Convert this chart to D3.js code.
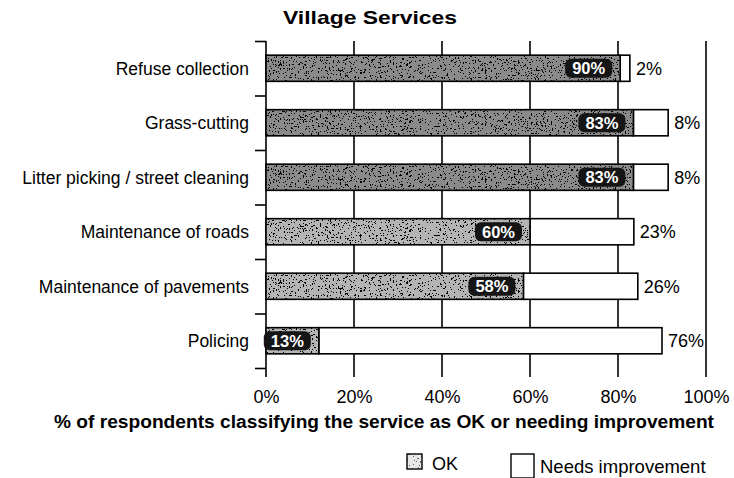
<!DOCTYPE html>
<html>
<head>
<meta charset="utf-8">
<script src="https://cdn.jsdelivr.net/npm/d3@7"></script>
<style>
  body { margin: 0; background: #fff; }
  svg { display: block; font-family: "Liberation Sans", Arial, Helvetica, sans-serif; }
</style>
</head>
<body>
<div id="root"></div>
<script>
// categories, top to bottom
let categories = ["Refuse collection", "Grass-cutting", "Litter picking / street cleaning",
    "Maintenance of roads", "Maintenance of pavements", "Policing"];

// bar lengths as drawn in the picture (% of respondents)
let okValues = [80.5, 83.5, 83.5, 60, 58.5, 12];
let needsValues = [2.2, 7.9, 7.9, 23.6, 26, 78];

// printed labels
let okLabels = [90, 83, 83, 60, 58, 13];
let needsLabels = [2, 8, 8, 23, 26, 76];

let xTicks = [0, 20, 40, 60, 80, 100];

let width = 734, height = 478;
let plotTop = 41, plotBottom = 368, axisBottom = 377;

let svg = d3.select('#root').append('svg')
    .attr('width', width)
    .attr('height', height);

// speckled texture for the "OK" bars
let defs = svg.append('defs');
function speckle(id, seed, freq, cut) {
    let f = defs.append('filter')
        .attr('id', id)
        .attr('x', 0).attr('y', 0).attr('width', 1).attr('height', 1);
    f.append('feTurbulence')
        .attr('type', 'fractalNoise')
        .attr('baseFrequency', freq)
        .attr('numOctaves', 2)
        .attr('seed', seed)
        .attr('result', 'noise');
    f.append('feColorMatrix')
        .attr('in', 'noise')
        .attr('type', 'matrix')
        .attr('values', '0 0 0 0 0  0 0 0 0 0  0 0 0 0 0  1.6 0 0 0 -' + cut)
        .attr('result', 'a');
    f.append('feComponentTransfer')
        .attr('in', 'a')
        .attr('result', 'b')
        .append('feFuncA').attr('type', 'discrete').attr('tableValues', '0 0 1 1');
    f.append('feComposite')
        .attr('in', 'b')
        .attr('in2', 'SourceGraphic')
        .attr('operator', 'in');
}
speckle('speckleDark', 7, 0.55, 0.58);
speckle('speckleLight', 23, 0.6, 0.62);

let x = d3.scaleLinear()
    .domain([0, 100])
    .range([266, 706]);

let y = d3.scaleBand()
    .domain(categories)
    .range([plotTop, plotBottom]);

let yIdx = d3.scaleLinear()
    .domain([0, categories.length])
    .range([plotTop, plotBottom]);

let barH = y.bandwidth() * 0.48;

// title
svg.append('text')
    .attr('x', 370)
    .attr('y', 24)
    .attr('text-anchor', 'middle')
    .attr('textLength', 174)
    .attr('lengthAdjust', 'spacingAndGlyphs')
    .style('font-size', '19px')
    .style('font-weight', 'bold')
    .text('Village Services');

// vertical gridlines
svg.append('g')
    .selectAll('line')
    .data(xTicks)
    .enter().append('line')
    .attr('x1', d => x(d)).attr('x2', d => x(d))
    .attr('y1', plotTop).attr('y2', axisBottom)
    .style('stroke', '#000')
    .style('stroke-width', 1.6);

// left ticks at band boundaries
let leftAxis = svg.append('g')
    .attr('transform', 'translate(' + x(0) + ',0)')
    .call(d3.axisLeft(yIdx).ticks(categories.length).tickFormat('').tickSize(11).tickSizeOuter(0));
leftAxis.select('.domain').remove();
leftAxis.selectAll('line').style('stroke-width', 1.6);

// category labels
svg.append('g')
    .selectAll('text')
    .data(categories)
    .enter().append('text')
    .attr('x', 249)
    .attr('y', d => y(d) + y.bandwidth() / 2)
    .attr('dy', '0.36em')
    .attr('text-anchor', 'end')
    .style('font-size', '17.5px')
    .text(d => d);

let rows = svg.append('g')
    .selectAll('.row')
    .data(categories)
    .enter().append('g')
    .attr('class', 'row')
    .attr('transform', d => 'translate(0,' + (y(d) + (y.bandwidth() - barH) / 2) + ')');

// needs improvement (white) bars
rows.append('rect')
    .attr('x', (d, i) => x(okValues[i]))
    .attr('width', (d, i) => x(okValues[i] + needsValues[i]) - x(okValues[i]))
    .attr('height', barH)
    .style('fill', '#fff')
    .style('stroke', '#000')
    .style('stroke-width', 1.6);

// OK bars: grey base + dark and light speckle
rows.append('rect')
    .attr('x', x(0))
    .attr('width', (d, i) => x(okValues[i]) - x(0))
    .attr('height', barH)
    .style('fill', (d, i) => i < 3 ? '#8a8a8a' : '#b4b4b4');
rows.append('rect')
    .attr('x', x(0))
    .attr('width', (d, i) => x(okValues[i]) - x(0))
    .attr('height', barH)
    .style('fill', '#111')
    .attr('filter', 'url(#speckleDark)');
rows.append('rect')
    .attr('x', x(0))
    .attr('width', (d, i) => x(okValues[i]) - x(0))
    .attr('height', barH)
    .style('fill', '#fff')
    .attr('filter', 'url(#speckleLight)');
rows.append('rect')
    .attr('x', x(0))
    .attr('width', (d, i) => x(okValues[i]) - x(0))
    .attr('height', barH)
    .style('fill', 'none')
    .style('stroke', '#000')
    .style('stroke-width', 1.6);

// OK labels inside bars
rows.append('rect')
    .attr('x', (d, i) => x(okValues[i]) - 55)
    .attr('y', barH / 2 - 9.5)
    .attr('width', 47)
    .attr('height', 19)
    .attr('rx', 6)
    .style('fill', '#151515');
rows.append('text')
    .attr('x', (d, i) => x(okValues[i]) - 31.5)
    .attr('y', barH / 2)
    .attr('dy', '0.36em')
    .attr('text-anchor', 'middle')
    .style('fill', '#fff')
    .style('font-size', '16.5px')
    .style('font-weight', 'bold')
    .text((d, i) => okLabels[i] + '%');

// needs labels outside bars
rows.append('text')
    .attr('x', (d, i) => x(okValues[i] + needsValues[i]) + 6)
    .attr('y', barH / 2)
    .attr('dy', '0.36em')
    .style('font-size', '18px')
    .text((d, i) => needsLabels[i] + '%');

// bottom axis labels
let bottomAxis = svg.append('g')
    .attr('transform', 'translate(0,' + axisBottom + ')')
    .call(d3.axisBottom(x).tickValues(xTicks).tickFormat(d => d + '%').tickSize(0).tickPadding(13));
bottomAxis.select('.domain').remove();
bottomAxis.selectAll('text')
    .style('font-size', '18px')
    .style('font-family', '"Liberation Sans", Arial, sans-serif')
    .style('fill', '#000');

svg.append('text')
    .attr('x', 384)
    .attr('y', 428)
    .attr('text-anchor', 'middle')
    .attr('textLength', 660)
    .attr('lengthAdjust', 'spacingAndGlyphs')
    .style('font-size', '17.5px')
    .style('font-weight', 'bold')
    .text('% of respondents classifying the service as OK or needing improvement');

// legend
let legend = svg.append('g');
legend.append('rect')
    .attr('x', 407).attr('y', 454).attr('width', 15).attr('height', 15)
    .style('fill', '#e8e8e8');
legend.append('rect')
    .attr('x', 407).attr('y', 454).attr('width', 15).attr('height', 15)
    .style('fill', '#000')
    .style('opacity', 0.55)
    .attr('filter', 'url(#speckleDark)');
legend.append('rect')
    .attr('x', 407).attr('y', 454).attr('width', 15).attr('height', 15)
    .style('fill', 'none').style('stroke', '#000').style('stroke-width', 1.4);
legend.append('text')
    .attr('x', 432).attr('y', 470)
    .style('font-size', '18px')
    .text('OK');
legend.append('rect')
    .attr('x', 511).attr('y', 454).attr('width', 23).attr('height', 24)
    .style('fill', '#fff').style('stroke', '#000').style('stroke-width', 1.4);
legend.append('text')
    .attr('x', 540).attr('y', 473)
    .style('font-size', '18.5px')
    .text('Needs improvement');
</script>
</body>
</html>
